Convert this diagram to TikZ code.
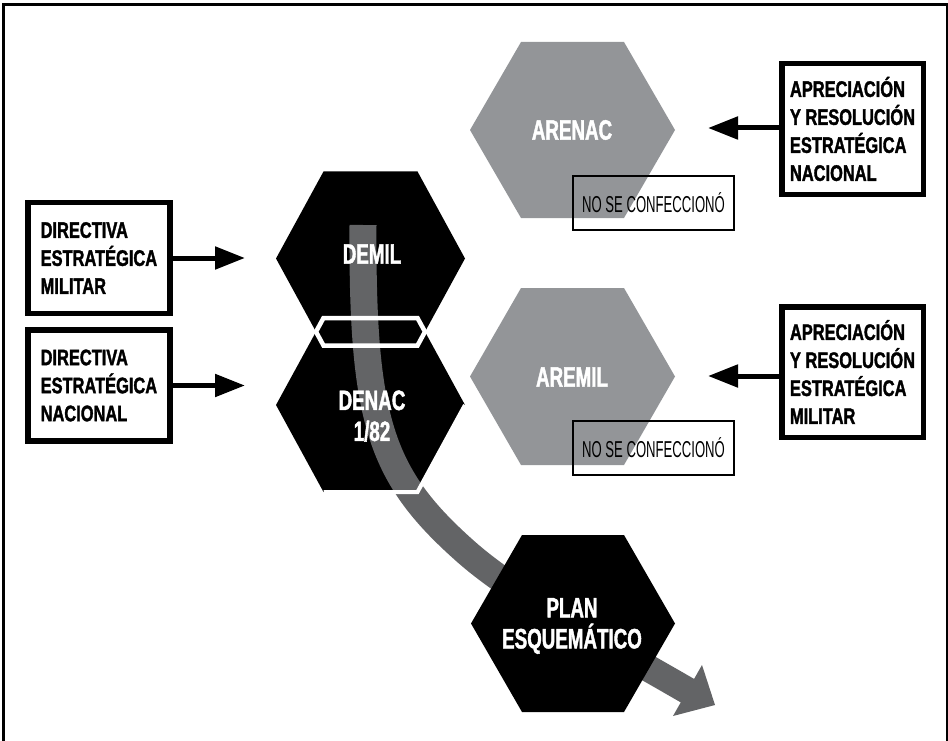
\documentclass[tikz,border=0pt]{standalone}
\usepackage{fontspec}
\usetikzlibrary{arrows.meta}

\newfontfamily\boxfont[FakeStretch=0.73, FakeBold=1.5]{Liberation Sans Bold}
\newfontfamily\hexfont[FakeStretch=0.67, FakeBold=1.5]{Liberation Sans Bold}
\newfontfamily\notefont[FakeStretch=0.57]{Liberation Sans}

\definecolor{hexgray}{RGB}{147,149,152}
\definecolor{flowgray}{RGB}{99,100,102}

% hexagon with flat top/bottom: style, cx, cy, half width, half top edge, half height
\newcommand{\hexshape}[6]{%
  \path[#1] (#2-#4,#3) -- (#2-#5,#3-#6) -- (#2+#5,#3-#6) -- (#2+#4,#3)
    -- (#2+#5,#3+#6) -- (#2-#5,#3+#6) -- cycle;}

\tikzset{
  infobox/.style={draw, line width=5.5pt, minimum width=142pt, minimum height=111pt,
    inner sep=0pt, align=left, font=\boxfont\fontsize{22.5}{28}\selectfont},
  notebox/.style={draw, line width=2pt, minimum width=161pt, minimum height=54pt,
    inner sep=0pt, font=\notefont\fontsize{23}{26}\selectfont},
  hexlabel/.style={text=white, align=center, inner sep=0pt,
    font=\hexfont\fontsize{28}{31}\selectfont},
  feed/.style={line width=5pt, -{Triangle[length=30pt,width=22pt]}},
}

\begin{document}
\begin{tikzpicture}[x=1pt,y=-1pt]
\useasboundingbox (0,0) rectangle (948,741);

% outer frame
\draw[line width=3pt] (3.5,745) -- (3.5,4.5) -- (947,4.5) -- (947,745);

% appreciation hexagons (not produced)
\hexshape{fill=hexgray}{572.5}{130}{102.5}{51.5}{88}
\hexshape{fill=hexgray}{572.5}{376.5}{102.5}{51.5}{88.5}

\node[notebox] (note1) at (653.5,203) {NO SE CONFECCIONÓ};
\node[notebox] (note2) at (653.5,447.5) {NO SE CONFECCIONÓ};

% directive hexagons
\hexshape{fill=black}{370.5}{258.5}{94.5}{47}{87}
\hexshape{fill=black}{370.5}{405}{94.5}{47}{87}

% flow band
\draw[flowgray, line width=27pt] (363,225) .. controls (362,420) and (380,475) .. (464,550)
  .. controls (514,595) and (600,640) .. (688,691);

% overlap of the two directives
\draw[white, line width=4.5pt, line join=miter]
  (316,331.75) -- (323.5,318) -- (417.5,318) -- (425,331.75) -- (417.5,345.5) -- (323.5,345.5) -- cycle;
\draw[white, line width=4pt, line join=miter] (323.5,492) -- (417.5,492) -- (465,405);

% plan hexagon
\hexshape{fill=black}{573}{623.5}{102}{51}{88.5}

% arrow head of the flow
\fill[flowgray] (702,665) -- (715,705) -- (673,716) -- cycle;

% hexagon labels
\node[hexlabel] (arenac) at (572,130) {ARENAC};
\node[hexlabel] (aremil) at (572,377) {AREMIL};
\node[hexlabel] (demil) at (372,254) {DEMIL};
\node[hexlabel] (denac) at (372,416) {DENAC\\1/82};
\node[hexlabel] (plan) at (572,626) {PLAN\\ESQUEMÁTICO};

% input boxes
\node[infobox] (dem) at (98.9,258) {DIRECTIVA\\ESTRATÉGICA\\MILITAR};
\node[infobox] (den) at (98.9,385.5) {DIRECTIVA\\ESTRATÉGICA\\NACIONAL};
\node[infobox, minimum width=141.5pt, minimum height=130.5pt] (arn) at (852.5,129)
  {APRECIACIÓN\\Y RESOLUCIÓN\\ESTRATÉGICA\\NACIONAL};
\node[infobox, minimum width=141.5pt, minimum height=130.5pt] (arm) at (852.5,372)
  {APRECIACIÓN\\Y RESOLUCIÓN\\ESTRATÉGICA\\MILITAR};

\coordinate (demtip) at (245,258);
\coordinate (dentip) at (245,385.5);
\coordinate (arntip) at (708,128);
\coordinate (armtip) at (708,376);

\draw[feed] (dem.east) -- (demtip);
\draw[feed] (den.east) -- (dentip);
\draw[feed] (arn.west |- arntip) -- (arntip);
\draw[feed] (arm.west |- armtip) -- (armtip);
\end{tikzpicture}
\end{document}
